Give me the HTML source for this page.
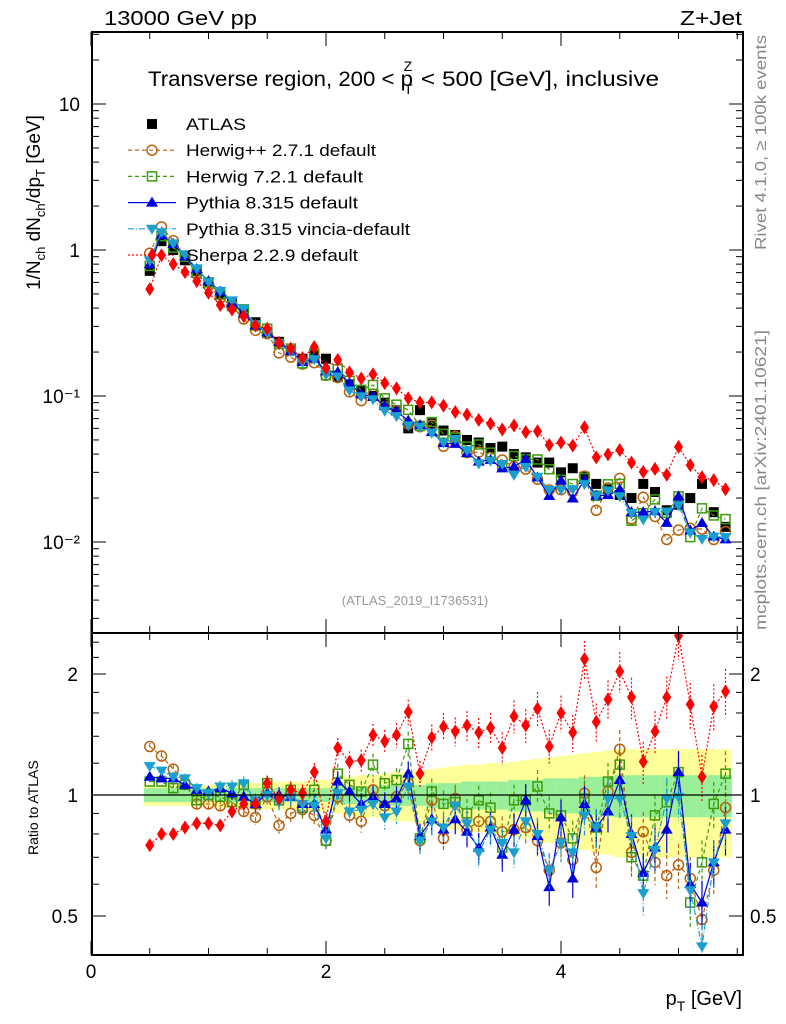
<!DOCTYPE html>
<html><head><meta charset="utf-8"><style>
body{margin:0;background:#fff;}
svg{display:block;font-family:"Liberation Sans",sans-serif;}
</style></head><body>
<svg id="chart" width="786" height="1024" viewBox="0 0 786 1024">
<defs>
<clipPath id="cm"><rect x="92" y="32" width="651" height="601"/></clipPath>
<clipPath id="cr"><rect x="92" y="633" width="651" height="322"/></clipPath>
</defs>
<g id="bands" clip-path="url(#cr)"></g>
<g id="ratio" clip-path="url(#cr)"></g>
<g id="main" clip-path="url(#cm)"></g>
<g id="axes"></g>
<text x="104" y="25" font-size="20" textLength="153" lengthAdjust="spacingAndGlyphs">13000 GeV pp</text>
<text x="680" y="25" font-size="20" textLength="62" lengthAdjust="spacingAndGlyphs">Z+Jet</text>
<text x="148" y="86" font-size="21"><tspan textLength="265" lengthAdjust="spacingAndGlyphs">Transverse region, 200 &lt; p</tspan><tspan font-size="14" dx="-9" dy="8">T</tspan><tspan font-size="14" dx="-9" dy="-23">Z</tspan><tspan dx="2" dy="15" textLength="245" lengthAdjust="spacingAndGlyphs"> &lt; 500 [GeV], inclusive</tspan></text>
<text x="415" y="605" font-size="13" fill="#999" text-anchor="middle">(ATLAS_2019_I1736531)</text>
<text transform="translate(766,250) rotate(-90)" font-size="16" fill="#888" textLength="215" lengthAdjust="spacingAndGlyphs">Rivet 4.1.0, ≥ 100k events</text>
<text transform="translate(766,630) rotate(-90)" font-size="16" fill="#888" textLength="300" lengthAdjust="spacingAndGlyphs">mcplots.cern.ch [arXiv:2401.10621]</text>
<text transform="translate(40,290) rotate(-90)" font-size="19">1/N<tspan font-size="13" dy="5">ch</tspan><tspan dy="-5"> dN</tspan><tspan font-size="13" dy="5">ch</tspan><tspan dy="-5">/dp</tspan><tspan font-size="13" dy="5">T</tspan><tspan dy="-5"> [GeV]</tspan></text>
<text transform="translate(38,855) rotate(-90)" font-size="14">Ratio to ATLAS</text>
<text x="742" y="1005" font-size="20" text-anchor="end">p<tspan font-size="14" dy="6">T</tspan><tspan dy="-6"> [GeV]</tspan></text>
<g id="legend"></g>
</svg>
<script>
const xs=[0.5,0.6,0.7,0.8,0.9,1.0,1.1,1.2,1.3,1.4,1.5,1.6,1.7,1.8,1.9,2.0,2.1,2.2,2.3,2.4,2.5,2.6,2.7,2.8,2.9,3.0,3.1,3.2,3.3,3.4,3.5,3.6,3.7,3.8,3.9,4.0,4.1,4.2,4.3,4.4,4.5,4.6,4.7,4.8,4.9,5.0,5.1,5.2,5.3,5.4];
const atlas=[0.72,1.15,1.0,0.85,0.72,0.6,0.5,0.43,0.37,0.32,0.27,0.235,0.205,0.18,0.19,0.18,0.135,0.12,0.108,0.1,0.09,0.08,0.06,0.08,0.065,0.058,0.054,0.05,0.048,0.044,0.045,0.04,0.038,0.035,0.035,0.03,0.032,0.028,0.025,0.023,0.021,0.02,0.025,0.022,0.0165,0.018,0.02,0.025,0.016,0.0127];
const rHerwigPP=[1.32,1.25,1.16,1.07,0.95,0.95,0.94,0.96,0.91,0.88,0.99,0.84,0.90,0.92,0.89,0.77,0.99,0.89,0.86,1.03,0.94,0.99,1.07,0.77,0.97,0.78,0.98,0.82,0.86,0.86,0.81,0.82,0.83,0.77,0.65,0.76,0.69,1.01,0.66,1.02,1.30,0.72,0.81,0.68,0.63,0.67,0.62,0.49,0.65,0.93];
const rHerwig7=[1.08,1.08,1.04,1.06,0.97,1.0,0.99,0.96,1.06,0.95,1.07,0.97,1.03,0.93,1.03,0.77,1.13,1.06,1.02,1.19,1.07,1.09,1.34,0.78,1.02,0.95,0.96,0.90,0.97,0.93,0.74,0.97,0.97,1.05,0.90,0.89,0.78,0.98,0.83,1.08,1.19,0.70,0.63,0.89,0.96,1.14,0.54,0.68,0.95,1.13];
const rPythia=[1.11,1.10,1.10,1.06,1.03,1.02,1.04,1.01,0.99,0.95,1.01,1.0,0.99,0.95,0.95,0.82,1.08,1.02,0.95,0.99,0.95,0.98,1.13,0.79,0.87,0.82,0.87,0.81,0.74,0.83,0.71,0.82,0.97,0.79,0.59,0.88,0.62,0.95,0.83,0.91,1.09,0.80,0.64,0.74,0.82,1.14,0.60,0.54,0.68,0.82];
const rVincia=[1.18,1.15,1.11,1.10,1.04,1.01,1.05,1.05,1.07,0.97,1.0,0.96,0.99,0.95,0.94,0.78,1.01,0.91,0.92,0.95,0.88,0.91,1.05,0.77,0.86,0.83,0.94,0.85,0.72,0.82,0.76,0.72,0.86,0.80,0.65,0.76,0.72,0.89,0.83,0.98,0.98,0.79,0.57,0.73,0.98,0.99,0.58,0.42,0.68,0.85];
const rSherpa=[0.75,0.80,0.80,0.83,0.85,0.85,0.84,0.91,0.95,0.95,1.07,0.98,1.03,1.01,1.14,0.86,1.31,1.21,1.22,1.41,1.36,1.41,1.61,1.13,1.39,1.48,1.44,1.49,1.43,1.47,1.31,1.57,1.49,1.64,1.32,1.60,1.43,2.18,1.52,1.73,2.03,1.75,1.21,1.44,1.75,2.49,1.68,1.11,1.66,1.81];
const greenHalf=[0.04,0.04,0.04,0.04,0.04,0.04,0.04,0.04,0.04,0.04,0.04,0.04,0.04,0.04,0.04,0.04,0.05,0.05,0.05,0.05,0.06,0.06,0.06,0.06,0.07,0.07,0.07,0.08,0.08,0.08,0.08,0.09,0.09,0.09,0.1,0.1,0.1,0.11,0.11,0.11,0.12,0.12,0.12,0.12,0.12,0.12,0.12,0.12,0.12,0.12];
const yellowHalf=[0.06,0.06,0.06,0.06,0.06,0.06,0.07,0.07,0.07,0.07,0.08,0.08,0.08,0.08,0.09,0.09,0.1,0.11,0.12,0.12,0.13,0.14,0.14,0.15,0.16,0.17,0.18,0.19,0.19,0.2,0.2,0.21,0.22,0.23,0.24,0.25,0.26,0.27,0.28,0.29,0.3,0.3,0.3,0.3,0.3,0.3,0.3,0.3,0.3,0.3];
const mainTicks=["10","1","10⁻¹","10⁻²"];
const mainTickVals=[10,1,0.1,0.01];
const ratioTicks=["2","1","0.5"];
const ratioTickVals=[2,1,0.5];
const xTickVals=[0,2,4];

const NS="http://www.w3.org/2000/svg";
const X=v=>91+v*117.5;
const YM=v=>250-146*Math.log10(v);
const YR=v=>795-121*Math.log2(v);
function mk(tag,at,parent){const e=document.createElementNS(NS,tag);for(const k in at)e.setAttribute(k,at[k]);parent.appendChild(e);return e;}

const bands=document.getElementById('bands');
xs.forEach((x,i)=>{
  const x0=X(x-0.05),w=117.5*0.1;
  const y1=mk('rect',{x:x0,y:YR(1+yellowHalf[i]),width:w+0.5,height:YR(1-yellowHalf[i])-YR(1+yellowHalf[i]),fill:'#ffff99'},bands);
  
  
  const g1=mk('rect',{x:x0,y:YR(1+greenHalf[i]),width:w+0.5,height:YR(1-greenHalf[i])-YR(1+greenHalf[i]),fill:'#99ee99'},bands);
  
  
});

function marker(g,type,cx,cy,col){
  let e;
  if(type==='sq') e=mk('rect',{x:cx-5,y:cy-5,width:10,height:10,fill:col},g);
  else if(type==='osq') e=mk('rect',{x:cx-4.5,y:cy-4.5,width:9,height:9,fill:'none',stroke:col,'stroke-width':1.5},g);
  else if(type==='oc') e=mk('circle',{cx:cx,cy:cy,r:5,fill:'none',stroke:col,'stroke-width':1.5},g);
  else if(type==='tri') e=mk('polygon',{points:`${cx},${cy-6} ${cx-6},${cy+4} ${cx+6},${cy+4}`,fill:col},g);
  else if(type==='itri') e=mk('polygon',{points:`${cx},${cy+6} ${cx-6},${cy-4} ${cx+6},${cy-4}`,fill:col},g);
  else e=mk('polygon',{points:`${cx},${cy-7} ${cx-4.5},${cy} ${cx},${cy+7} ${cx+4.5},${cy}`,fill:col},g);
  return e;
}
const series=[
 {name:'herwigpp',r:rHerwigPP,col:'#b8600b',m:'oc',dash:'4,3',label:'Herwig++ 2.7.1 default',w:190},
 {name:'herwig7',r:rHerwig7,col:'#3c9a0c',m:'osq',dash:'4,3',label:'Herwig 7.2.1 default',w:177},
 {name:'pythia',r:rPythia,col:'#0000dd',m:'tri',dash:'',label:'Pythia 8.315 default',w:172},
 {name:'vincia',r:rVincia,col:'#1aa0d0',m:'itri',dash:'6,2,1,2',label:'Pythia 8.315 vincia-default',w:224},
 {name:'sherpa',r:rSherpa,col:'#ff0000',m:'dia',dash:'2,2',label:'Sherpa 2.2.9 default',w:172}
];
const gm=document.getElementById('main'),gr=document.getElementById('ratio');
xs.forEach((x,i)=>{const e=marker(gm,'sq',X(x),YM(atlas[i]),'#000');
 
 });
series.forEach(s=>{
  const pm=xs.map((x,i)=>`${X(x)},${YM(atlas[i]*s.r[i])}`).join(' ');
  const pr=xs.map((x,i)=>`${X(x)},${YR(s.r[i])}`).join(' ');
  const l1=mk('polyline',{points:pm,fill:'none',stroke:s.col,'stroke-width':1.2,'stroke-dasharray':s.dash},gm);
  
  
  const l2=mk('polyline',{points:pr,fill:'none',stroke:s.col,'stroke-width':1.2,'stroke-dasharray':s.dash},gr);
  
  
  xs.forEach((x,i)=>{
    const err=0.02+0.012*i/5;
    const yv=YR(s.r[i]);
    mk('line',{x1:X(x),x2:X(x),y1:YR(s.r[i]*(1+err)),y2:YR(s.r[i]*(1-err)),stroke:s.col,'stroke-width':1.2,'stroke-dasharray':s.dash},gr);
    const a=marker(gm,s.m,X(x),YM(atlas[i]*s.r[i]),s.col);
    
    
    const b=marker(gr,s.m,X(x),yv,s.col);
    
    
  });
});
const ax=document.getElementById('axes');
mk('rect',{x:92,y:32,width:651,height:601,fill:'none',stroke:'#000','stroke-width':2},ax);
mk('rect',{x:92,y:633,width:651,height:322,fill:'none',stroke:'#000','stroke-width':2},ax);
mk('line',{x1:92,x2:743,y1:YR(1),y2:YR(1),stroke:'#000','stroke-width':1.2},ax);
for(let d=-3;d<=1;d++){for(let k=1;k<10;k++){const v=k*Math.pow(10,d);const y=YM(v);if(y<32||y>633)continue;const L=k===1?14:7;
 mk('line',{x1:92,x2:92+L,y1:y,y2:y,stroke:'#000'},ax);mk('line',{x1:743-L,x2:743,y1:y,y2:y,stroke:'#000'},ax);}}
mainTickVals.forEach((v,i)=>{const t=mk('text',{x:80,y:YM(v)+7,'font-size':19,'text-anchor':'end'},ax);t.textContent=mainTicks[i];
 
 });
[0.4,0.5,0.6,0.7,0.8,0.9,1,1.2,1.4,1.6,1.8,2,2.2,2.4].forEach(v=>{const y=YR(v);const L=(v===0.5||v===1||v===2)?14:7;
 mk('line',{x1:92,x2:92+L,y1:y,y2:y,stroke:'#000'},ax);mk('line',{x1:743-L,x2:743,y1:y,y2:y,stroke:'#000'},ax);});
ratioTickVals.forEach((v,i)=>{const t=mk('text',{x:78,y:YR(v)+7,'font-size':19,'text-anchor':'end'},ax);t.textContent=ratioTicks[i];
 
 
 const t2=mk('text',{x:750,y:YR(v)+7,'font-size':19},ax);t2.textContent=ratioTicks[i];
 
 });
for(let v=0;v<=5.5;v+=0.5){const x=X(v);const L=(v%2===0)?14:7;
 mk('line',{x1:x,x2:x,y1:633-L,y2:633,stroke:'#000'},ax);mk('line',{x1:x,x2:x,y1:32,y2:32+L,stroke:'#000'},ax);
 mk('line',{x1:x,x2:x,y1:955-L,y2:955,stroke:'#000'},ax);mk('line',{x1:x,x2:x,y1:633,y2:633+L,stroke:'#000'},ax);}
xTickVals.forEach(v=>{const t=mk('text',{x:X(v),y:978,'font-size':19,'text-anchor':'middle'},ax);t.textContent=String(v);
 
 });
const lg=document.getElementById('legend');
const ents=[{m:'sq',col:'#000',dash:null,label:'ATLAS',w:60}].concat(series);
ents.forEach((s,i)=>{const y=124+i*26.2;
 const g=mk('g',{},lg);
 
 
 if(s.dash!==null) mk('line',{x1:128,x2:176,y1:y,y2:y,stroke:s.col,'stroke-width':1.2,'stroke-dasharray':s.dash},g);
 marker(g,s.m,152,y,s.col);
 const t=mk('text',{x:186,y:y+6,'font-size':17,textLength:s.w,lengthAdjust:'spacingAndGlyphs'},g);t.textContent=s.label;});
</script>
</body></html>
